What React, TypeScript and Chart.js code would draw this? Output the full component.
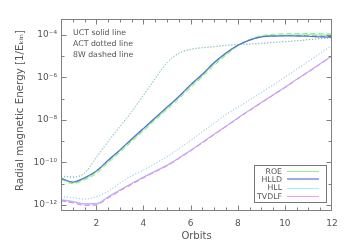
import React, { useEffect, useRef } from "react";
import { Chart, registerables } from "chart.js";

Chart.register(...registerables);

const orbits = [0.5, 1, 1.5, 2, 2.5, 3, 3.5, 4, 4.5, 5, 5.5, 6, 6.5, 7, 7.5, 8, 8.5, 9, 9.5, 10, 10.5, 11, 11.5, 12];

// UCT (solid)
const hlldUCT = [1.8e-11, 1.2e-11, 1.9e-11, 4.0e-11, 1.26e-10, 3.9e-10, 1.26e-9, 4.0e-9, 1.26e-8, 4.0e-8, 1.26e-7, 4.5e-7, 1.4e-6, 5.0e-6, 1.4e-5, 3.2e-5, 5.6e-5, 7.9e-5, 8.7e-5, 8.9e-5, 8.7e-5, 8.5e-5, 7.9e-5, 7.6e-5];
const roeUCT = [1.7e-11, 1.1e-11, 1.7e-11, 3.5e-11, 1.1e-10, 3.4e-10, 1.1e-9, 3.4e-9, 1.1e-8, 3.4e-8, 1.1e-7, 3.8e-7, 1.2e-6, 4.2e-6, 1.2e-5, 3.0e-5, 5.8e-5, 8.3e-5, 9.3e-5, 9.6e-5, 9.8e-5, 9.8e-5, 9.7e-5, 9.6e-5];
const hllUCT = [1.8e-12, 1.5e-12, 1.15e-12, 1.2e-12, 2.5e-12, 5.2e-12, 1.05e-11, 2.1e-11, 4.0e-11, 7.6e-11, 1.66e-10, 3.8e-10, 9.1e-10, 2.2e-9, 5.2e-9, 1.26e-8, 2.95e-8, 6.8e-8, 1.55e-7, 3.5e-7, 8.3e-7, 1.9e-6, 4.5e-6, 1.05e-5];
const tvdlfUCT = [1.7e-12, 1.4e-12, 1.1e-12, 1.12e-12, 2.3e-12, 4.9e-12, 1.0e-11, 2.0e-11, 3.8e-11, 7.2e-11, 1.58e-10, 3.6e-10, 8.7e-10, 2.1e-9, 5.0e-9, 1.2e-8, 2.8e-8, 6.5e-8, 1.48e-7, 3.35e-7, 8.0e-7, 1.82e-6, 4.3e-6, 1.0e-5];

// ACT (dotted)
const hlldACT = [2.3e-11, 2.1e-11, 3.2e-11, 1.8e-10, 1.0e-9, 5.0e-9, 2.5e-8, 1.5e-7, 9.0e-7, 5.0e-6, 1.35e-5, 2.1e-5, 2.5e-5, 2.8e-5, 3.2e-5, 3.5e-5, 3.7e-5, 4.0e-5, 4.4e-5, 4.8e-5, 5.2e-5, 5.9e-5, 6.6e-5, 7.4e-5];
const roeACT = [2.2e-11, 2.0e-11, 3.0e-11, 1.6e-10, 9.0e-10, 4.5e-9, 2.2e-8, 1.4e-7, 8.5e-7, 4.7e-6, 1.3e-5, 2.0e-5, 2.4e-5, 2.7e-5, 3.1e-5, 3.4e-5, 3.6e-5, 3.9e-5, 4.3e-5, 4.7e-5, 5.1e-5, 5.8e-5, 6.5e-5, 7.3e-5];
const hllACT = [2.5e-12, 2.2e-12, 1.9e-12, 2.5e-12, 4.5e-12, 1.1e-11, 2.4e-11, 4.5e-11, 8.9e-11, 1.9e-10, 4.5e-10, 1.1e-9, 2.8e-9, 7.1e-9, 1.8e-8, 4.0e-8, 8.9e-8, 2.0e-7, 4.5e-7, 1.05e-6, 2.5e-6, 6.0e-6, 1.4e-5, 3.3e-5];
const tvdlfACT = [2.5e-12, 2.2e-12, 1.9e-12, 2.4e-12, 4.4e-12, 1.05e-11, 2.3e-11, 4.4e-11, 8.7e-11, 1.85e-10, 4.4e-10, 1.05e-9, 2.7e-9, 6.9e-9, 1.75e-8, 3.8e-8, 8.4e-8, 1.9e-7, 4.2e-7, 9.8e-7, 2.3e-6, 5.5e-6, 1.3e-5, 3.1e-5];

// 8W (dashed)
const hlld8W = [1.75e-11, 1.15e-11, 1.8e-11, 3.8e-11, 1.2e-10, 3.7e-10, 1.2e-9, 3.8e-9, 1.2e-8, 3.8e-8, 1.2e-7, 4.3e-7, 1.35e-6, 4.8e-6, 1.35e-5, 3.1e-5, 5.5e-5, 7.8e-5, 8.8e-5, 9.2e-5, 9.2e-5, 9.0e-5, 8.6e-5, 8.3e-5];
const roe8W = [1.6e-11, 1.0e-11, 1.5e-11, 3.0e-11, 9.5e-11, 3.0e-10, 9.5e-10, 3.0e-9, 9.5e-9, 3.0e-8, 9.5e-8, 3.2e-7, 1.05e-6, 3.6e-6, 1.1e-5, 2.9e-5, 6.0e-5, 9.0e-5, 1.05e-4, 1.12e-4, 1.14e-4, 1.14e-4, 1.12e-4, 1.1e-4];
const hll8W = [1.6e-12, 1.3e-12, 1.0e-12, 1.05e-12, 2.2e-12, 4.7e-12, 9.6e-12, 1.9e-11, 3.7e-11, 7.0e-11, 1.55e-10, 3.55e-10, 8.5e-10, 2.05e-9, 4.9e-9, 1.18e-8, 2.75e-8, 6.4e-8, 1.46e-7, 3.3e-7, 7.9e-7, 1.8e-6, 4.25e-6, 9.9e-6];
const tvdlf8W = [1.55e-12, 1.25e-12, 0.95e-12, 1.0e-12, 2.1e-12, 4.5e-12, 9.2e-12, 1.85e-11, 3.6e-11, 6.8e-11, 1.5e-10, 3.45e-10, 8.2e-10, 2.0e-9, 4.75e-9, 1.15e-8, 2.7e-8, 6.2e-8, 1.42e-7, 3.2e-7, 7.7e-7, 1.75e-6, 4.15e-6, 9.7e-6];

const xTickLabels = [2, 4, 6, 8, 10, 12];
const yLabelExps = [-12, -10, -8, -6, -4];
const supMap: Record<string, string> = { "-": "⁻", "0": "⁰", "1": "¹", "2": "²", "4": "⁴", "6": "⁶", "8": "⁸" };

const methods = ["ROE", "HLLD", "HLL", "TVDLF"];
const COLORS: Record<string, string> = { ROE: "#7fef7f", HLLD: "#5b73d6", HLL: "#7ff3f3", TVDLF: "#ee88ee" };
const LEGEND_COLORS: Record<string, string> = { ROE: "#8ff08f", HLLD: "#a4a8ee", HLL: "#9ff5f5", TVDLF: "#f0a0f0" };

const FONT = "'DejaVu Sans', sans-serif";
const TEXT = "#555555";
const FRAME = "#808080";

function sup(s: string) {
  return s.split("").map((c) => supMap[c] || c).join("");
}

function mk(label: string, values: number[], color: string, dash: number[], width = 1) {
  return {
    label,
    data: orbits.map((x, i) => ({ x, y: values[i] })),
    borderColor: color,
    backgroundColor: color,
    borderWidth: width,
    borderDash: dash,
    pointRadius: 0,
    fill: false,
    cubicInterpolationMode: "monotone" as const,
  };
}

const framePlugin = {
  id: "frameTicks",
  afterDraw(chart: any) {
    const { ctx, chartArea: a, scales } = chart;
    const x = scales.x;
    const y = scales.y;
    ctx.save();
    ctx.strokeStyle = FRAME;
    ctx.lineWidth = 1;
    const L = Math.round(a.left) + 0.5;
    const R = Math.round(a.right) - 0.5;
    const T = Math.round(a.top) + 0.5;
    const B = Math.round(a.bottom) - 0.5;
    ctx.strokeRect(L, T, R - L, B - T);
    ctx.beginPath();
    for (let v = 1; v < 12; v += 0.5) {
      const px = Math.round(x.getPixelForValue(v)) + 0.5;
      const len = v % 2 === 0 ? 5 : 3;
      ctx.moveTo(px, B);
      ctx.lineTo(px, B - len);
      ctx.moveTo(px, T);
      ctx.lineTo(px, T + len);
    }
    for (let e = -12; e <= -4; e++) {
      const py = Math.round(y.getPixelForValue(Math.pow(10, e))) + 0.5;
      const len = e % 2 === 0 ? 5 : 3;
      ctx.moveTo(L, py);
      ctx.lineTo(L + len, py);
      ctx.moveTo(R, py);
      ctx.lineTo(R - len, py);
    }
    ctx.stroke();

    // annotation text
    ctx.fillStyle = TEXT;
    ctx.font = `7.8px ${FONT}`;
    ctx.textAlign = "left";
    ctx.textBaseline = "alphabetic";
    ctx.fillText("UCT solid line", 73, 35);
    ctx.fillText("ACT dotted line", 73, 46);
    ctx.fillText("8W dashed line", 73, 56.5);

    // legend
    ctx.strokeStyle = "#777777";
    ctx.strokeRect(254.5, 165.5, 72, 37);
    const baselines = [173.5, 181.5, 190, 198.5];
    methods.forEach((m, i) => {
      ctx.fillStyle = TEXT;
      ctx.textAlign = "right";
      ctx.fillText(m, 282, baselines[i]);
      ctx.strokeStyle = LEGEND_COLORS[m];
      ctx.lineWidth = m === "HLLD" ? 2 : 1;
      ctx.beginPath();
      const ly = Math.round(baselines[i] - 2.5) + (m === "HLLD" ? 0 : 0.5);
      ctx.moveTo(287, ly);
      ctx.lineTo(319, ly);
      ctx.stroke();
    });

    // axis titles
    ctx.fillStyle = TEXT;
    ctx.font = `10px ${FONT}`;
    ctx.textAlign = "center";
    ctx.fillText("Orbits", (a.left + a.right) / 2, 239);
    ctx.translate(20.5, 110.5);
    ctx.rotate(-Math.PI / 2);
    ctx.textBaseline = "middle";
    ctx.font = `10.3px ${FONT}`;
    ctx.fillText("Radial magnetic Energy [1/Eₖᵢₙ]", 0, 0);
    ctx.restore();
  },
};

export default function App() {
  const ref = useRef<HTMLCanvasElement | null>(null);
  useEffect(() => {
    document.body.style.margin = "0";
    const canvas = ref.current!;
    const chart = new Chart(canvas, {
      type: "line",
      data: {
        datasets: [
          mk("HLLD UCT", hlldUCT, COLORS.HLLD, [], 1.2),
          mk("ROE UCT", roeUCT, COLORS.ROE, []),
          mk("HLLD 8W", hlld8W, COLORS.HLLD, [5, 3]),
          mk("ROE 8W", roe8W, COLORS.ROE, [5, 3]),
          mk("HLLD ACT", hlldACT, "#8aa0e8", [1, 2]),
          mk("ROE ACT", roeACT, COLORS.ROE, [1, 2]),
          mk("TVDLF UCT", tvdlfUCT, COLORS.TVDLF, []),
          mk("HLL UCT", hllUCT, COLORS.HLL, []),
          mk("TVDLF 8W", tvdlf8W, COLORS.TVDLF, [5, 3]),
          mk("HLL 8W", hll8W, COLORS.HLL, [5, 3]),
          mk("HLL ACT", hllACT, COLORS.HLL, [1, 2]),
          mk("TVDLF ACT", tvdlfACT, "#d9a0f0", [1, 2]),
        ],
      },
      options: {
        responsive: false,
        animation: false,
        parsing: true as any,
        layout: { padding: { top: 19, right: 18, left: 0, bottom: 0 } },
        plugins: { legend: { display: false }, tooltip: { enabled: false }, title: { display: false } },
        scales: {
          x: {
            type: "linear",
            min: 0.5,
            max: 12,
            grid: { display: false, drawTicks: false },
            border: { display: false },
            afterBuildTicks: (s: any) => {
              s.ticks = xTickLabels.map((v) => ({ value: v }));
            },
            afterFit: (s: any) => {
              s.height = 39;
            },
            ticks: {
              padding: 7,
              color: TEXT,
              font: { family: FONT, size: 9 },
              maxRotation: 0,
              autoSkip: false,
              callback: (v: any) => String(v),
            },
          },
          y: {
            type: "logarithmic",
            min: 5.2e-13,
            max: 5.5e-4,
            grid: { display: false, drawTicks: false },
            border: { display: false },
            afterBuildTicks: (s: any) => {
              s.ticks = yLabelExps.map((e) => ({ value: Math.pow(10, e) }));
            },
            afterFit: (s: any) => {
              s.width = 61;
            },
            ticks: {
              padding: 4,
              color: TEXT,
              font: { family: FONT, size: 9 },
              autoSkip: false,
              callback: (v: any) => "10" + sup(String(Math.round(Math.log10(Number(v))))),
            },
          },
        },
      },
      plugins: [framePlugin],
    } as any);
    return () => chart.destroy();
  }, []);
  return <canvas ref={ref} width={350} height={250} style={{ display: "block" }} />;
}
